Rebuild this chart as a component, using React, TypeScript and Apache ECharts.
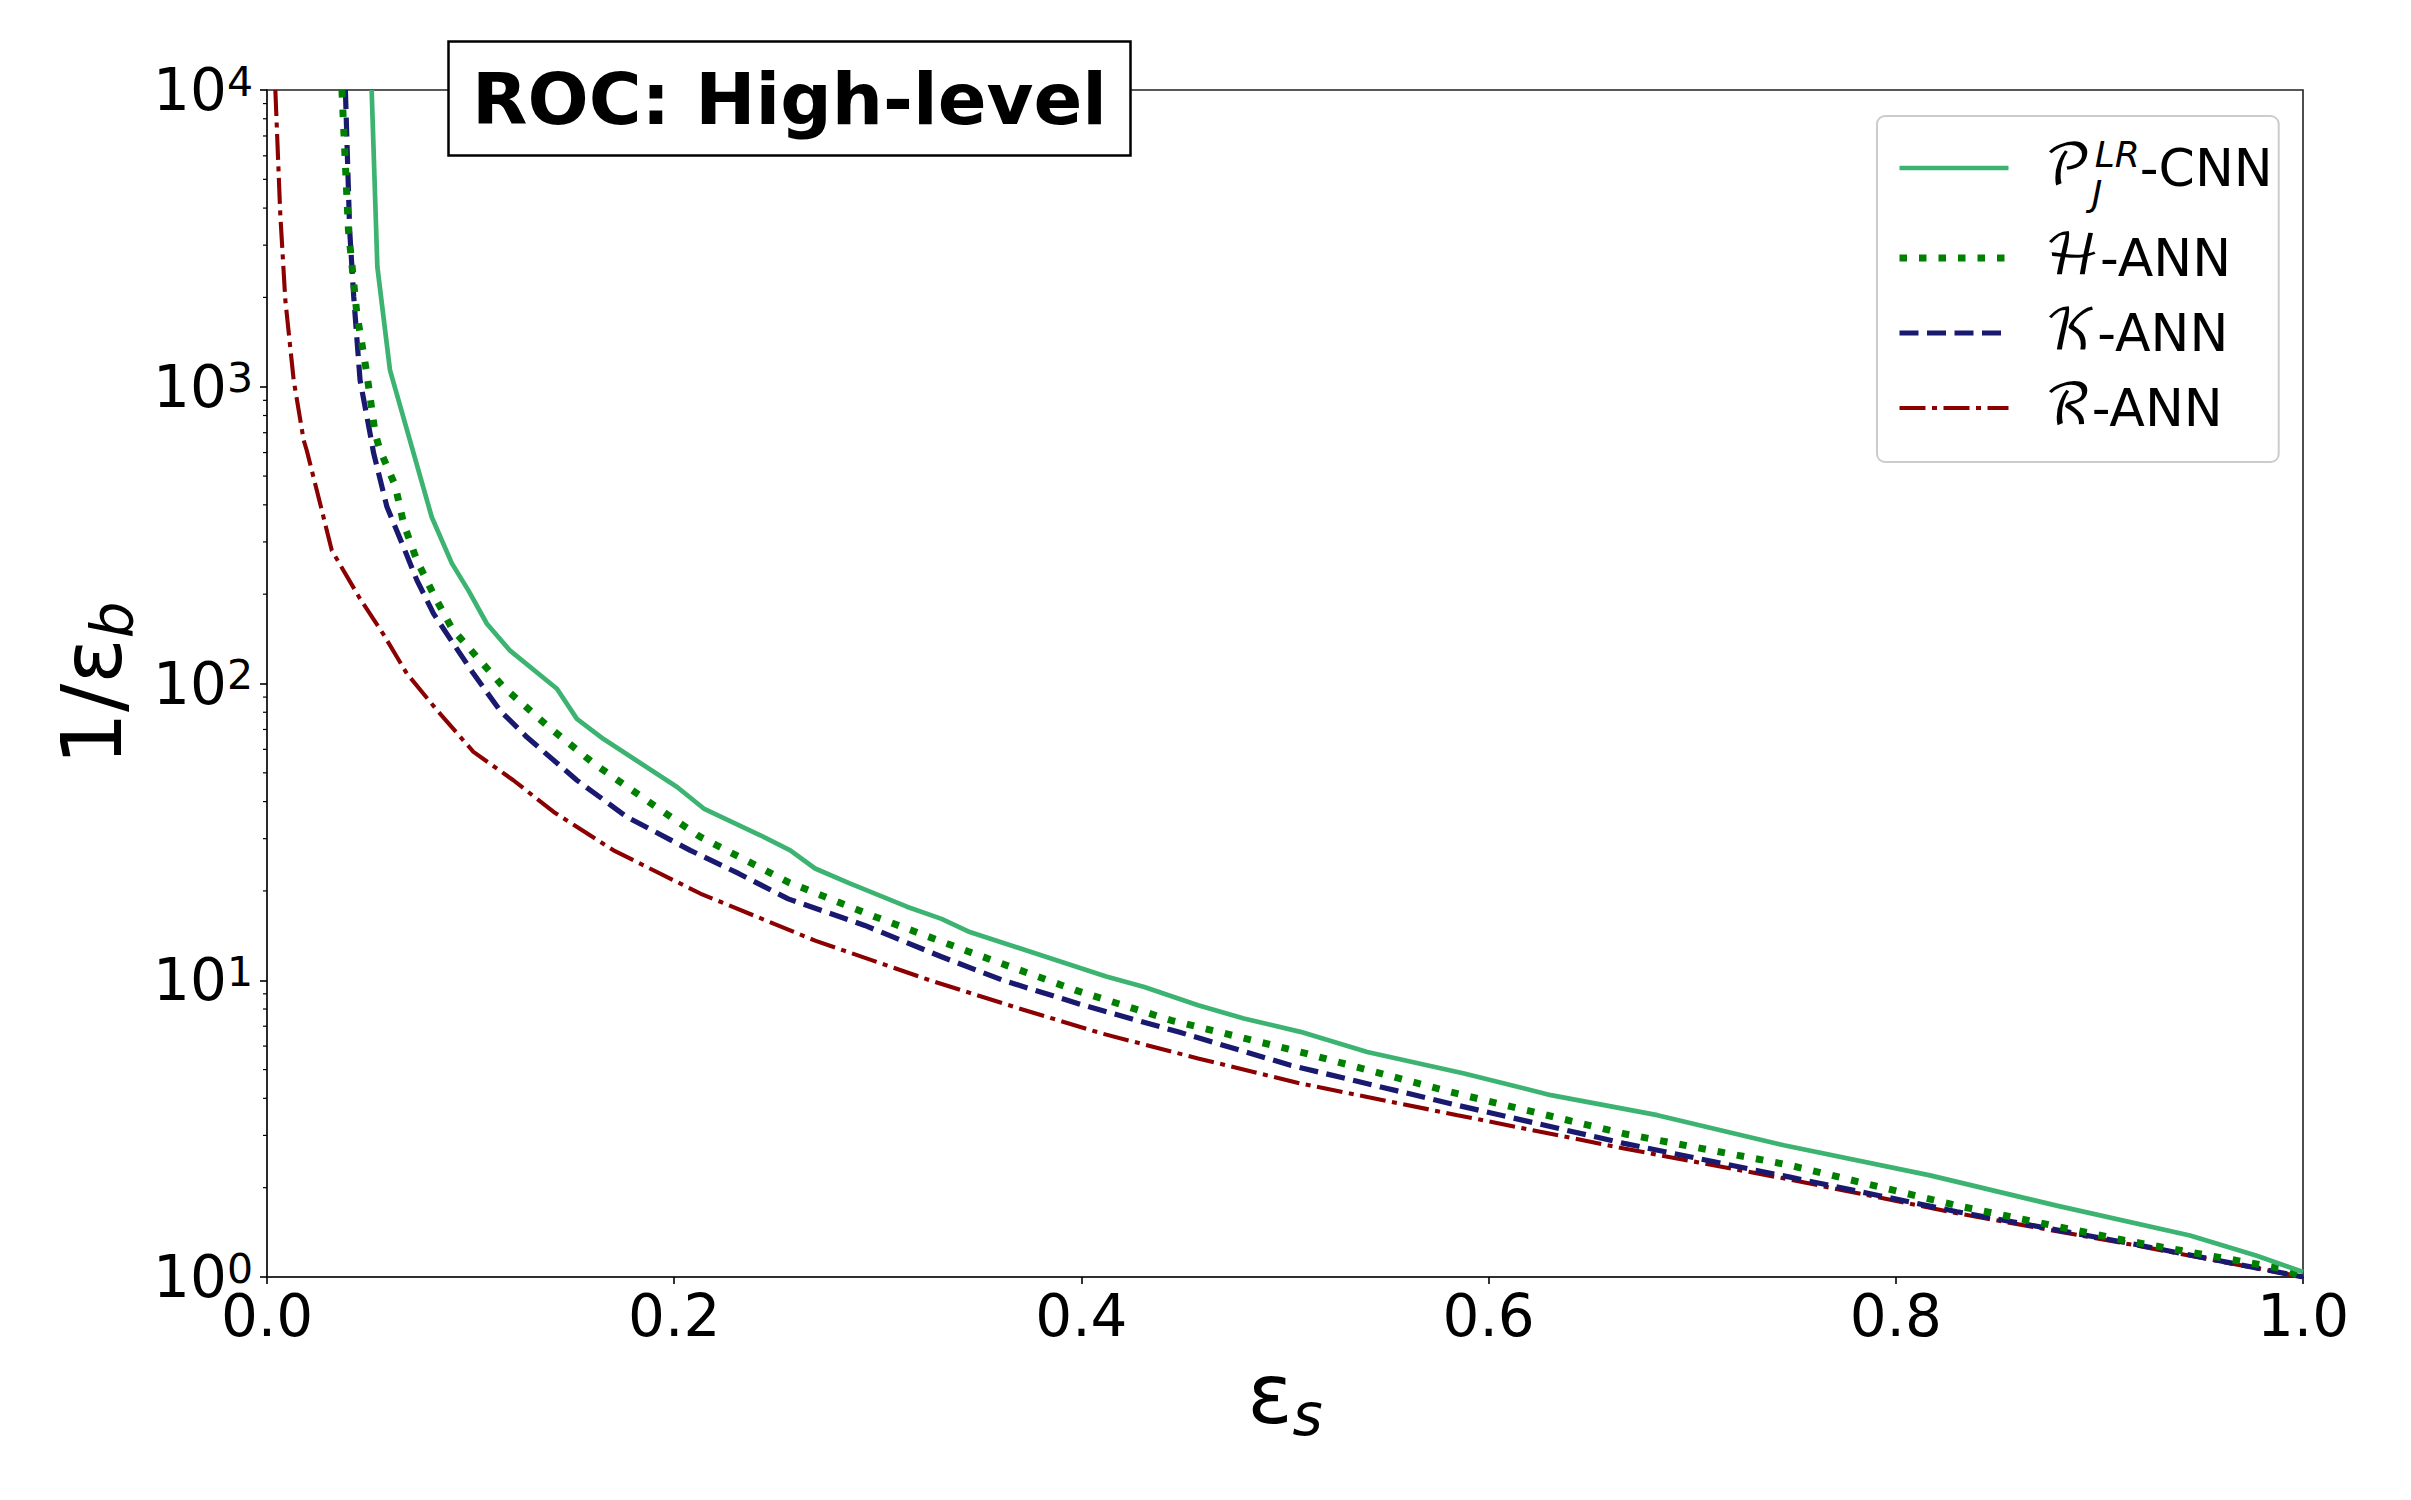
import React, { useEffect, useRef } from "react";
import * as echarts from "echarts";

// ---------- data ----------
const pCnnEps = [0.0514, 0.0542, 0.0604, 0.0809, 0.0908, 0.0989, 0.108, 0.1194, 0.1424, 0.1522, 0.1653, 0.2014, 0.2145, 0.2423, 0.257, 0.2692, 0.2862, 0.3143, 0.3313, 0.3444, 0.3746, 0.4122, 0.4309, 0.4573, 0.4798, 0.5076, 0.5404, 0.588, 0.6306, 0.6829, 0.745, 0.8168, 0.879, 0.9445, 0.9773, 1.0];
const pCnnInv = [10000, 2535, 1138, 364, 254, 206, 159, 129, 96, 76, 65, 44.8, 37.9, 30.8, 27.4, 23.8, 21.2, 17.7, 16.1, 14.6, 12.5, 10.3, 9.49, 8.24, 7.43, 6.7, 5.73, 4.85, 4.1, 3.51, 2.78, 2.2, 1.74, 1.38, 1.18, 1.04];

const hAnnEps = [0.0368, 0.04, 0.0441, 0.049, 0.0531, 0.0555, 0.0629, 0.0671, 0.0736, 0.0819, 0.0909, 0.103, 0.1161, 0.1374, 0.1604, 0.1899, 0.2128, 0.2226, 0.256, 0.2993, 0.3444, 0.397, 0.444, 0.5076, 0.5813, 0.6665, 0.748, 0.83, 0.912, 0.9887, 1.0];
const hAnnInv = [10000, 3370, 1770, 1111, 697, 611, 466, 346, 260, 199, 153, 123, 97.4, 72.3, 53.8, 38.9, 30.4, 28.1, 21.4, 16.3, 12.5, 9.26, 7.33, 5.73, 4.2, 3.04, 2.38, 1.74, 1.33, 1.07, 1.0];

const kAnnEps = [0.0385, 0.0396, 0.0406, 0.0426, 0.0457, 0.0506, 0.0524, 0.0589, 0.067, 0.0736, 0.0818, 0.0916, 0.1014, 0.1145, 0.1276, 0.1522, 0.1768, 0.2079, 0.2316, 0.256, 0.2936, 0.3313, 0.3614, 0.4009, 0.4479, 0.5027, 0.5847, 0.6665, 0.748, 0.83, 0.912, 1.0];
const kAnnInv = [10000, 5650, 3373, 2010, 1053, 697, 596, 394, 289, 223, 172, 136, 108, 81, 66, 47.2, 35.5, 27.4, 22.9, 18.8, 15.3, 12.0, 10.0, 8.24, 6.69, 5.17, 3.79, 2.82, 2.17, 1.66, 1.31, 1.0];

const rAnnEps = [0.0041, 0.0065, 0.009, 0.0131, 0.018, 0.0195, 0.0269, 0.0318, 0.0457, 0.0573, 0.0687, 0.0835, 0.1014, 0.121, 0.1408, 0.1702, 0.2128, 0.2692, 0.3256, 0.367, 0.4103, 0.4573, 0.5076, 0.5847, 0.6665, 0.748, 0.83, 0.912, 1.0];
const rAnnInv = [10000, 3840, 1960, 1053, 661, 611, 384, 281, 193, 146, 108, 81.3, 58.8, 47.2, 36.9, 27.4, 19.6, 13.6, 10.0, 8.13, 6.61, 5.45, 4.49, 3.51, 2.71, 2.13, 1.64, 1.3, 1.0];

const seriesNames = ["𝒫-CNN", "ℋ-ANN", "𝒦-ANN", "ℛ-ANN"];
const seriesColors = ["#3cb371", "#008000", "#191970", "#8b0000"];
const xTicks = [0, 0.2, 0.4, 0.6, 0.8, 1.0];
const yDecades = [1, 10, 100, 1000, 10000];
const minorMultipliers = [2, 3, 4, 5, 6, 7, 8, 9];

const SANS = "'DejaVu Sans', sans-serif";
const CAL = "'DejaVu Math TeX Gyre', 'DejaVu Serif', 'DejaVu Sans', serif";

const lineStyles: any[] = [
  { color: seriesColors[0], width: 4.7, type: "solid", cap: "butt" },
  { color: seriesColors[1], width: 7, type: [7.5, 12], cap: "butt" },
  { color: seriesColors[2], width: 5.2, type: [19, 8.5], cap: "butt" },
  { color: seriesColors[3], width: 4.1, type: [26, 6.5, 5, 6.5], cap: "butt" },
];

const zip = (a: number[], b: number[]) => a.map((v, i) => [v, b[i]]);

export default function App() {
  const ref = useRef<HTMLDivElement>(null);
  useEffect(() => {
    if (!ref.current) return;
    const chart = echarts.init(ref.current, null, { renderer: "svg" });

    const minorTicks: number[][] = [];
    yDecades.slice(0, -1).forEach((d) => minorMultipliers.forEach((m) => minorTicks.push([0, d * m])));

    const legendText: Record<string, string> = {
      [seriesNames[0]]: "{c1|𝒫}{sub|J}{sup|LR}{t1|-CNN}",
      [seriesNames[1]]: "{c|ℋ}{t|-ANN}",
      [seriesNames[2]]: "{c|𝒦}{t|-ANN}",
      [seriesNames[3]]: "{c|ℛ}{t|-ANN}",
    };

    const dataSets = [zip(pCnnEps, pCnnInv), zip(hAnnEps, hAnnInv), zip(kAnnEps, kAnnInv), zip(rAnnEps, rAnnInv)];

    const option: any = {
      animation: false,
      backgroundColor: "#ffffff",
      title: {
        text: "ROC: High-level",
        left: 448,
        top: 41,
        padding: [21, 24, 21, 24],
        borderColor: "#000",
        borderWidth: 2.5,
        backgroundColor: "#fff",
        textStyle: { fontFamily: SANS, fontWeight: "bold", fontSize: 72, lineHeight: 73, color: "#000" },
      },
      grid: {
        left: 267,
        right: 108,
        top: 90,
        bottom: 223,
        show: true,
        borderColor: "#222",
        borderWidth: 1.6,
        backgroundColor: "transparent",
      },
      legend: {
        data: seriesNames.map((n, i) => ({
          name: n,
          lineStyle: { ...lineStyles[i] },
          itemStyle: { opacity: 0, color: "transparent", borderWidth: 0 },
        })),
        orient: "vertical",
        left: 1877,
        top: 116,
        padding: [9, 6, 26, 19],
        itemGap: 19,
        itemWidth: 109,
        itemHeight: 20,
        backgroundColor: "rgba(255,255,255,0.85)",
        borderColor: "#cccccc",
        borderWidth: 2,
        borderRadius: 8,
        formatter: (name: string) => legendText[name],
        textStyle: {
          fontFamily: SANS,
          fontSize: 52,
          color: "#000",
          rich: {
            c1: { fontFamily: CAL, fontSize: 56, lineHeight: 86, padding: [0, 0, 0, 31], verticalAlign: "middle", color: "#000" },
            sub: { fontFamily: SANS, fontStyle: "italic", fontSize: 36, lineHeight: 36, width: 3, verticalAlign: "bottom", color: "#000" },
            sup: { fontFamily: SANS, fontStyle: "italic", fontSize: 36, lineHeight: 36, padding: [11, 0, 0, 0], verticalAlign: "top", color: "#000" },
            t1: { fontFamily: SANS, fontSize: 52, lineHeight: 86, verticalAlign: "middle", color: "#000" },
            c: { fontFamily: CAL, fontSize: 56, lineHeight: 60, padding: [0, 0, 0, 31], verticalAlign: "middle", color: "#000" },
            t: { fontFamily: SANS, fontSize: 52, lineHeight: 60, verticalAlign: "middle", color: "#000" },
          },
        },
      },
      xAxis: {
        type: "value",
        min: 0,
        max: 1,
        interval: 0.2,
        name: "{m|ε}{s|s}",
        nameLocation: "middle",
        nameGap: 67,
        nameTextStyle: {
          rich: {
            m: { fontFamily: SANS, fontSize: 84, lineHeight: 100, verticalAlign: "middle", color: "#000" },
            s: { fontFamily: SANS, fontStyle: "italic", fontSize: 58, lineHeight: 58, verticalAlign: "bottom", color: "#000" },
          },
        },
        splitLine: { show: false },
        axisLine: { show: true, lineStyle: { color: "#222", width: 1.6 } },
        axisTick: { show: true, inside: false, length: 7, lineStyle: { color: "#000", width: 1.6 } },
        axisLabel: {
          margin: 10,
          fontFamily: SANS,
          fontSize: 58,
          color: "#000",
          formatter: (v: number) => (xTicks.includes(+v.toFixed(1)) ? v.toFixed(1) : ""),
        },
      },
      yAxis: {
        type: "log",
        logBase: 10,
        min: yDecades[0],
        max: yDecades[yDecades.length - 1],
        name: "{m|1/ε}{s|b}",
        nameLocation: "middle",
        nameGap: 121,
        nameTextStyle: {
          rich: {
            m: { fontFamily: SANS, fontSize: 84, lineHeight: 100, verticalAlign: "middle", color: "#000" },
            s: { fontFamily: SANS, fontStyle: "italic", fontSize: 58, lineHeight: 58, verticalAlign: "bottom", color: "#000" },
          },
        },
        splitLine: { show: false },
        axisLine: { show: true, lineStyle: { color: "#222", width: 1.6 } },
        axisTick: { show: true, inside: false, length: 7, lineStyle: { color: "#000", width: 1.6 } },
        axisLabel: {
          margin: 14,
          formatter: (v: number) => "{b|10}{e|" + Math.round(Math.log10(v)) + "}",
          rich: {
            b: { fontFamily: SANS, fontSize: 58, lineHeight: 58, verticalAlign: "bottom", color: "#000" },
            e: { fontFamily: SANS, fontSize: 41, lineHeight: 40, padding: [0, 0, 26, 0], verticalAlign: "top", color: "#000" },
          },
        },
      },
      series: [
        ...seriesNames.map((n, i) => ({
          name: n,
          type: "line",
          data: dataSets[i],
          symbol: "none",
          showSymbol: false,
          clip: true,
          z: 5 - i,
          lineStyle: lineStyles[i],
          itemStyle: { color: seriesColors[i] },
        })),
        {
          name: "minor ticks",
          type: "custom",
          silent: true,
          clip: false,
          data: minorTicks,
          renderItem: (params: any, api: any) => {
            const p = api.coord([api.value(0), api.value(1)]);
            return {
              type: "line",
              shape: { x1: p[0] - 4, y1: p[1], x2: p[0], y2: p[1] },
              style: { stroke: "#000", lineWidth: 1.2 },
            };
          },
        },
      ],
    };
    chart.setOption(option);
    return () => chart.dispose();
  }, []);

  return (
    <div
      ref={ref}
      style={{ position: "fixed", left: 0, top: 0, width: 2411, height: 1500, background: "#fff" }}
    />
  );
}
